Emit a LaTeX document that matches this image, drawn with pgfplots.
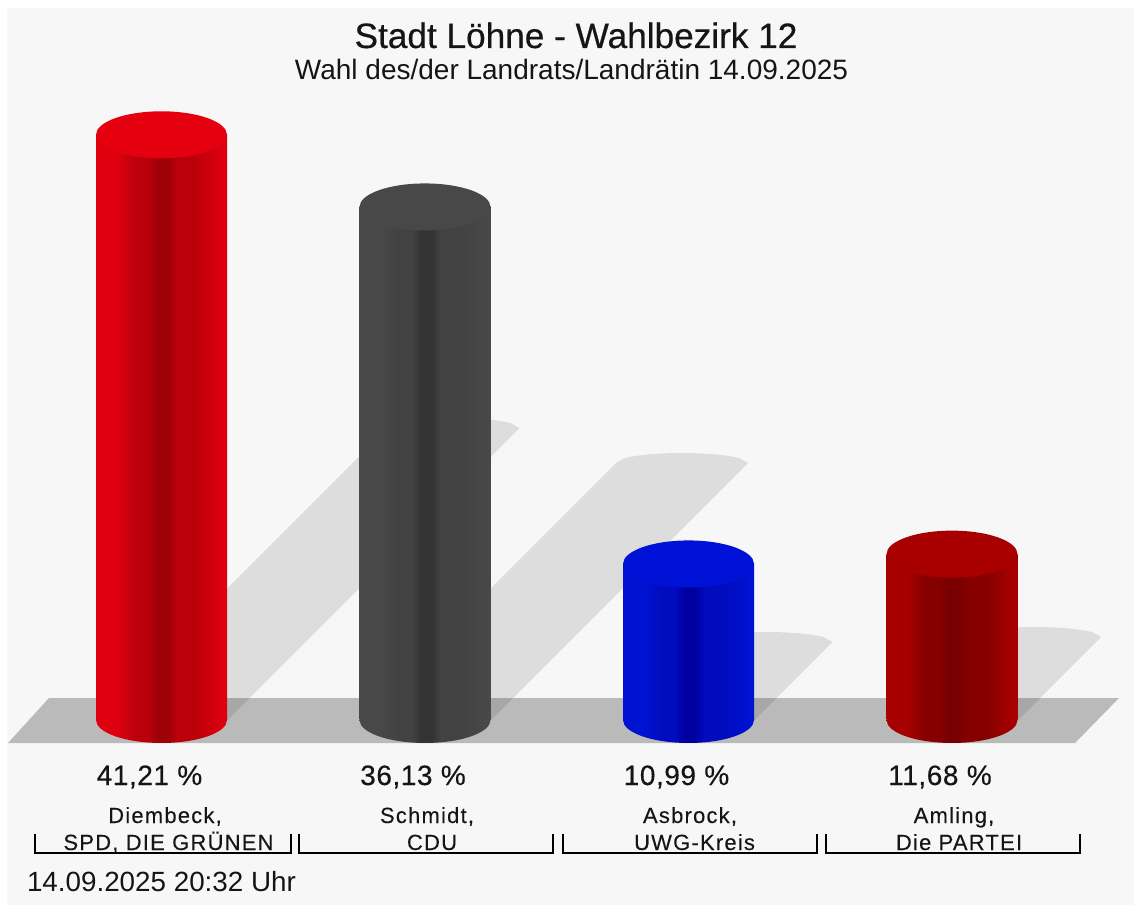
\documentclass[border=0pt]{standalone}
\usepackage{pgfplots}
\pgfplotsset{compat=1.18}
\usepackage{fontspec}
\setmainfont{Liberation Sans}
\newfontfamily\ttl[FakeBold=0.5]{Liberation Sans}
\newfontfamily\pct[FakeBold=0.35,LetterSpace=2]{Liberation Sans}
\newfontfamily\nm[LetterSpace=5.5,FakeBold=0.1]{Liberation Sans}
\definecolor{bgc}{HTML}{F7F7F7}
\definecolor{floorc}{HTML}{BABABA}
\definecolor{txt}{HTML}{151515}
\definecolor{topred}{HTML}{E4000E}
\definecolor{topdark}{HTML}{484848}
\definecolor{topblue}{HTML}{0012D8}
\definecolor{topmar}{HTML}{A80000}
\newcommand{\declcyl}[5]{%
  \pgfdeclarehorizontalshading{#1}{100bp}{%
    color(0bp)=(#2);color(25bp)=(#2);color(33bp)=(#2);color(40bp)=(#3);color(45bp)=(#3);
    color(48.5bp)=(#4);color(52.5bp)=(#4);color(56bp)=(#5);color(63bp)=(#5);color(73bp)=(#2);color(75bp)=(#2);color(100bp)=(#2)}}
\definecolor{r1}{HTML}{DE000E}\definecolor{r2}{HTML}{BC000B}\definecolor{r3}{HTML}{9E0007}
\definecolor{d1}{HTML}{484848}\definecolor{d2}{HTML}{424242}\definecolor{d3}{HTML}{333333}
\definecolor{b1}{HTML}{0012D2}\definecolor{b2}{HTML}{000CBE}\definecolor{b3}{HTML}{0000A0}
\definecolor{m1}{HTML}{A60000}\definecolor{m2}{HTML}{860000}\definecolor{m3}{HTML}{780000}
\declcyl{cylred}{r1}{r2}{r3}{r2}
\declcyl{cyldark}{d1}{d2}{d3}{d2}
\declcyl{cylblue}{b1}{b2}{b3}{b2}
\declcyl{cylmar}{m1}{m2}{m3}{m2}
\newcommand{\declbot}[1]{\pgfdeclareplotmark{bot#1}{%
  \shade[draw=none,shading=cyl#1] (-32.75pt,0.3pt) -- (-32.75pt,0pt) arc[start angle=180,end angle=360,x radius=32.75pt,y radius=11.5pt] -- (32.75pt,0.3pt) -- cycle;}}
\declbot{red}\declbot{dark}\declbot{blue}\declbot{mar}
\pgfdeclareplotmark{cyltop}{\pgfpathellipse{\pgfpointorigin}{\pgfqpoint{32.75pt}{0pt}}{\pgfqpoint{0pt}{11.75pt}}\pgfusepathqfill}
\newcommand{\fs}[1]{\fontsize{#1}{#1}\selectfont}
\pgfplotsset{base/.style={scale only axis,width=567pt,height=454pt,hide axis,clip=false,
  anchor=south west,at={(0pt,0pt)}}}
\begin{document}
\begin{tikzpicture}
\path[use as bounding box] (0pt,0pt) rectangle (567pt,454pt);
\begin{axis}[base,xmin=0,xmax=1134,ymin=0,ymax=908,y dir=reverse]
\addplot[fill=bgc,draw=none] coordinates {(7,8)(1134,8)(1134,905)(7,905)};
\addplot[fill=floorc,draw=none] coordinates {(8,743)(49,698)(1119,698)(1075,743)};
% shadows
\addplot[fill=black,fill opacity=0.1,draw=none] coordinates {(95.5,720)(387.5,428)(396.5,423)(406.5,421)(420.5,419.3)(436.5,418.3)(453.5,418)(470.5,418.3)(486.5,419.3)(500.5,421)(510.5,423)(519.5,428)(227.5,720)};
\addplot[fill=black,fill opacity=0.1,draw=none] coordinates {(359,720)(616,463)(625,458)(635,456)(649,454.3)(665,453.3)(682,453)(699,453.3)(715,454.3)(729,456)(739,458)(748,463)(491,720)};
\addplot[fill=black,fill opacity=0.1,draw=none] coordinates {(622.5,720)(700.5,642)(709.5,637)(719.5,635)(733.5,633.3)(749.5,632.3)(766.5,632)(783.5,632.3)(799.5,633.3)(813.5,635)(823.5,637)(832.5,642)(754.5,720)};
\addplot[fill=black,fill opacity=0.1,draw=none] coordinates {(886,720)(969,637)(978,632)(988,630)(1002,628.3)(1018,627.3)(1035,627)(1052,627.3)(1068,628.3)(1082,630)(1092,632)(1101,637)(1018,720)};
% brackets
\addplot[black,line width=1pt,sharp plot] coordinates {(35,834)(35,853)(291,853)(291,834)};
\addplot[black,line width=1pt,sharp plot] coordinates {(299,834)(299,853)(553,853)(553,834)};
\addplot[black,line width=1pt,sharp plot] coordinates {(563,834)(563,853)(817,853)(817,834)};
\addplot[black,line width=1pt,sharp plot] coordinates {(826,834)(826,853)(1080,853)(1080,834)};
% text
\tikzset{every node/.style={anchor=base,inner sep=0pt,outer sep=0pt,text=txt}}
\node at (axis cs:576,48) {\ttl\fs{17.6}Stadt Löhne - Wahlbezirk 12};
\node at (axis cs:571.5,80) {\fs{14}Wahl des/der Landrats/Landrätin 14.09.2025};
\node at (axis cs:149.5,785) {\pct\fs{14}41,21 \%};
\node at (axis cs:413,785) {\pct\fs{14}36,13 \%};
\node at (axis cs:676.5,785) {\pct\fs{14}10,99 \%};
\node at (axis cs:940,785) {\pct\fs{14}11,68 \%};
\node at (axis cs:165,823) {\nm\fs{11}Diembeck,};
\node at (axis cs:168.5,850) {\nm\fs{11}SPD, DIE GRÜNEN};
\node at (axis cs:427,823) {\nm\fs{11}Schmidt,};
\node at (axis cs:432,850) {\nm\fs{11}CDU};
\node at (axis cs:690,823) {\nm\fs{11}Asbrock,};
\node at (axis cs:694.5,850) {\nm\fs{11}UWG-Kreis};
\node at (axis cs:954,823) {\nm\fs{11}Amling,};
\node at (axis cs:959,850) {\nm\fs{11}Die PARTEI};
\node[anchor=base west] at (axis cs:27,891) {\fs{13.9}14.09.2025 20:32 Uhr};
\end{axis}
\begin{axis}[base,xmin=-0.6129,xmax=3.6907,ymin=-13.239,ymax=50.704]
\addplot[ybar,bar width=65.5pt,bar shift=0pt,draw=none,shading=cylred,shade] coordinates {(0,41.21)};
\addplot[ybar,bar width=65.5pt,bar shift=0pt,draw=none,shading=cyldark,shade] coordinates {(1,36.13)};
\addplot[ybar,bar width=65.5pt,bar shift=0pt,draw=none,shading=cylblue,shade] coordinates {(2,10.99)};
\addplot[ybar,bar width=65.5pt,bar shift=0pt,draw=none,shading=cylmar,shade] coordinates {(3,11.68)};
\addplot[only marks,mark=botred,mark options={draw=none}] coordinates {(0,0)};
\addplot[only marks,mark=botdark,mark options={draw=none}] coordinates {(1,0)};
\addplot[only marks,mark=botblue,mark options={draw=none}] coordinates {(2,0)};
\addplot[only marks,mark=botmar,mark options={draw=none}] coordinates {(3,0)};
\addplot[only marks,mark=cyltop,mark options={fill=topred,draw=none}] coordinates {(0,41.21)};
\addplot[only marks,mark=cyltop,mark options={fill=topdark,draw=none}] coordinates {(1,36.13)};
\addplot[only marks,mark=cyltop,mark options={fill=topblue,draw=none}] coordinates {(2,10.99)};
\addplot[only marks,mark=cyltop,mark options={fill=topmar,draw=none}] coordinates {(3,11.68)};
\end{axis}
\end{tikzpicture}
\end{document}
